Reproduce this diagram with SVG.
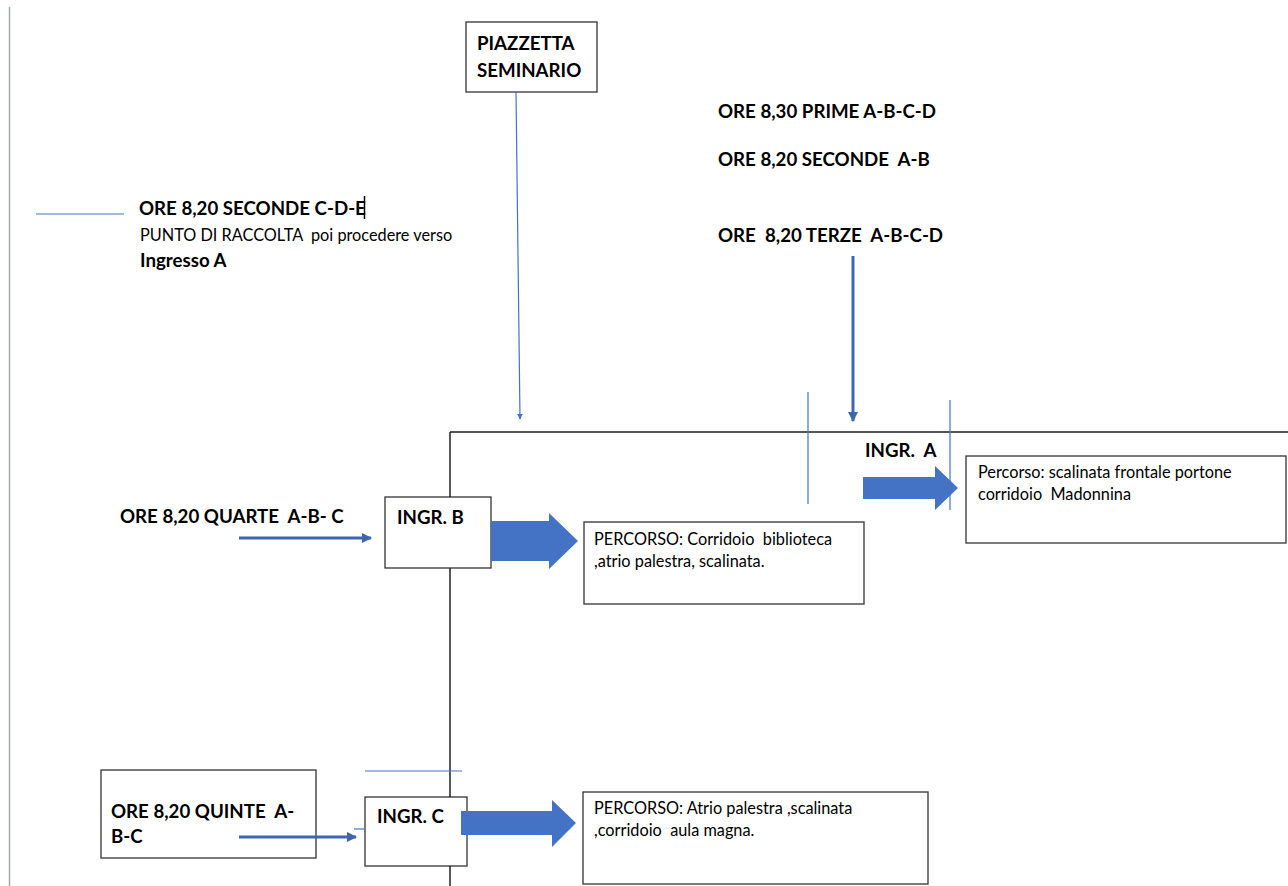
<svg xmlns="http://www.w3.org/2000/svg" width="1288" height="886" viewBox="0 0 1288 886">
<style>
.b{font-family:Lato,"Open Sans",sans-serif;font-weight:bold;font-size:18.7px;fill:#000}
.n{font-family:Lato,"Open Sans",sans-serif;font-size:16.3px;fill:#000}
.box{fill:#fff;stroke:#333;stroke-width:1.3}
.thin{stroke:#4472c4;stroke-width:1.2;fill:none}
.blk{fill:#4472c4}
.wall{stroke:#222;stroke-width:1.5}
</style>
<defs>
<marker id="ah" viewBox="0 0 10 10" refX="9" refY="5" markerWidth="6" markerHeight="6" orient="auto" markerUnits="userSpaceOnUse"><path d="M0,0L10,5L0,10z" fill="#4472c4"/></marker>
<marker id="ah2" viewBox="0 0 10 10" refX="9" refY="5" markerWidth="3.5" markerHeight="3.5" orient="auto"><path d="M0,0L10,5L0,10z" fill="#3f65b0"/></marker>
</defs>
<rect width="1288" height="886" fill="#fff"/>
<g id="piazzetta">
<rect class="box" x="466" y="22" width="131" height="70"/>
<text class="b" x="477" y="50">PIAZZETTA</text>
<text class="b" x="477" y="77">SEMINARIO</text>
</g>
<g id="orari-alto">
<text class="b" x="718" y="118">ORE 8,30 PRIME A-B-C-D</text>
<text class="b" x="718" y="166" xml:space="preserve">ORE 8,20 SECONDE  A-B</text>
<text class="b" x="718" y="242" xml:space="preserve">ORE  8,20 TERZE  A-B-C-D</text>
</g>
<g id="raccolta">
<text class="b" x="139" y="215">ORE 8,20 SECONDE C-D-E</text>
<line x1="364.5" y1="196" x2="364.5" y2="219" stroke="#000" stroke-width="1.5"/>
<text class="n" x="140" y="241" font-size="15.3" xml:space="preserve">PUNTO DI RACCOLTA  poi procedere verso</text>
<text class="b" x="140" y="267">Ingresso A</text>
</g>
<g id="ingr-a">
<text class="b" x="865" y="457" xml:space="preserve">INGR.  A</text>
<path class="blk" d="M863,477H935V466L958,488L935,510V499H863z"/>
</g>
<g id="percorso-a">
<rect class="box" x="966" y="456" width="320" height="87"/>
<text class="n" x="978" y="478">Percorso: scalinata frontale portone</text>
<text class="n" x="978" y="500" xml:space="preserve">corridoio  Madonnina</text>
</g>
<g id="quarte">
<text class="b" x="120" y="523" xml:space="preserve">ORE 8,20 QUARTE  A-B- C</text>
</g>
<g id="ingr-b">
<rect class="box" x="385" y="497" width="106" height="71"/>
<text class="b" x="397" y="524">INGR. B</text>
<path class="blk" d="M491,521H549V513L578,541L549,569V561H491z"/>
</g>
<g id="percorso-b">
<rect class="box" x="584" y="522" width="280" height="82"/>
<text class="n" x="594" y="545" xml:space="preserve">PERCORSO: Corridoio  biblioteca</text>
<text class="n" x="594" y="567">,atrio palestra, scalinata.</text>
</g>
<g id="quinte">
<rect class="box" x="101" y="770" width="215" height="88"/>
<text class="b" x="111" y="818" xml:space="preserve">ORE 8,20 QUINTE  A-</text>
<text class="b" x="111" y="843">B-C</text>
</g>
<g id="ingr-c">
<rect class="box" x="365" y="797" width="102" height="69"/>
<text class="b" x="377" y="823">INGR. C</text>
<path class="blk" d="M461,811H552V800L576,823L552,847V835H461z"/>
</g>
<g id="percorso-c">
<rect class="box" x="583" y="792" width="345" height="92"/>
<text class="n" x="594" y="814">PERCORSO: Atrio palestra ,scalinata</text>
<text class="n" x="594" y="836" xml:space="preserve">,corridoio  aula magna.</text>
</g>
<g id="connectors">
<line x1="9.5" y1="7" x2="9.5" y2="886" stroke="#a0a8b0" stroke-width="1.5"/>
<line x1="450" y1="432" x2="1288" y2="432" stroke="#555" stroke-width="2"/>
<line x1="450" y1="432" x2="450" y2="497" class="wall"/>
<line x1="450" y1="568" x2="450" y2="797" class="wall"/>
<line x1="450" y1="866" x2="450" y2="886" class="wall"/>
<line x1="516" y1="92" x2="520" y2="419" class="thin" marker-end="url(#ah)"/>
<line x1="853" y1="256" x2="853" y2="421" stroke="#3f65b0" stroke-width="3" marker-end="url(#ah2)"/>
<line x1="36" y1="214" x2="124" y2="214" class="thin"/>
<line x1="808" y1="392" x2="808" y2="504" class="thin"/>
<line x1="950" y1="400" x2="950" y2="510" class="thin"/>
<line x1="239" y1="538" x2="371" y2="538" stroke="#3f65b0" stroke-width="3" marker-end="url(#ah2)"/>
<line x1="365" y1="771" x2="462" y2="771" class="thin"/>
<line x1="354" y1="829" x2="364" y2="829" class="thin"/>
<line x1="239" y1="837" x2="356" y2="837" stroke="#3f65b0" stroke-width="3" marker-end="url(#ah2)"/>
</g>
</svg>
